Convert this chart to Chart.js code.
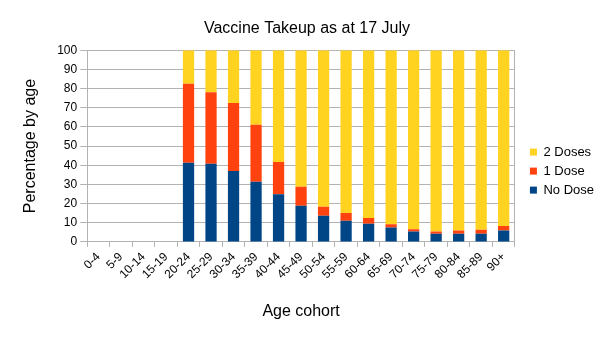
<!DOCTYPE html>
<html>
<head>
<meta charset="utf-8">
<script src="https://cdn.jsdelivr.net/npm/chart.js@4"></script>
<style>
html,body{margin:0;padding:0;background:#fff;}
#wrap{width:605px;height:340px;}
</style>
</head>
<body>
<div id="wrap"><canvas id="c" width="605" height="340"></canvas></div>
<script>
const categories = ["0-4","5-9","10-14","15-19","20-24","25-29","30-34","35-39","40-44","45-49","50-54","55-59","60-64","65-69","70-74","75-79","80-84","85-89","90+"];
const noDose  = [null,null,null,null,41.3,40.8,37.0,31.4,24.8,18.9,13.7,11.1,9.5,7.5,5.4,4.3,4.3,4.3,5.9];
const oneDose = [null,null,null,null,41.2,37.3,35.4,29.7,16.9,9.9,4.7,4.0,3.0,1.7,1.2,1.1,1.6,2.0,2.4];
const twoDoses= [null,null,null,null,17.5,21.9,27.6,38.9,58.3,71.2,81.6,84.9,87.5,90.8,93.4,94.6,94.1,93.7,91.7];
const yTicks = [0,10,20,30,40,50,60,70,80,90,100];

const FONT = "'Liberation Sans', Arial, sans-serif";
const GRID = '#b3b3b3';
Chart.defaults.font.family = FONT;
Chart.defaults.color = '#000';

new Chart(document.getElementById('c'), {
  type: 'bar',
  data: {
    labels: categories,
    datasets: [
      {label: 'No Dose', data: noDose, backgroundColor: '#004586'},
      {label: '1 Dose', data: oneDose, backgroundColor: '#ff420e'},
      {label: '2 Doses', data: twoDoses, backgroundColor: '#ffd320'}
    ]
  },
  options: {
    responsive: false,
    animation: false,
    layout: {padding: {left: 10, right: 1, top: 0, bottom: 0}},
    datasets: {bar: {categoryPercentage: 1, barPercentage: 0.5, borderWidth: 0}},
    plugins: {
      title: {display: true, text: 'Vaccine Takeup as at 17 July', color: '#000',
        font: {size: 16, weight: 'normal', family: FONT}, padding: {top: 19, bottom: 12}},
      legend: {position: 'right', reverse: true, align: 'start',
        title: {display: true, text: ' ', padding: {top: 124, bottom: 0}, font: {size: 13}},
        labels: {boxWidth: 7, boxHeight: 7, padding: 6, color: '#000', font: {size: 13, family: FONT}}},
      tooltip: {enabled: false}
    },
    scales: {
      x: {
        stacked: true,
        grid: {display: true, drawOnChartArea: false, offset: true, color: GRID, tickColor: GRID, tickLength: 5},
        border: {display: true, color: GRID},
        ticks: {autoSkip: false, minRotation: 45, maxRotation: 45, padding: 3, color: '#000', font: {size: 12, family: FONT}},
        title: {display: true, text: 'Age cohort', color: '#000', font: {size: 16, family: FONT}, padding: {top: 17, bottom: 19}}
      },
      y: {
        stacked: true,
        min: 0, max: 100,
        afterBuildTicks: (s) => { s.ticks = yTicks.map(v => ({value: v})); },
        grid: {color: GRID, tickColor: GRID, tickLength: 7},
        border: {display: true, color: GRID},
        ticks: {padding: 3, color: '#000', font: {size: 12, family: FONT}},
        title: {display: true, text: 'Percentage by age', color: '#000', font: {size: 16, family: FONT}, padding: {top: 11, bottom: 14}}
      },
      yR: {
        position: 'right',
        display: true,
        grid: {display: false},
        border: {display: true, color: GRID},
        ticks: {display: false},
        afterFit: (s) => { s.width = 9; }
      }
    }
  }
});
</script>
</body>
</html>
